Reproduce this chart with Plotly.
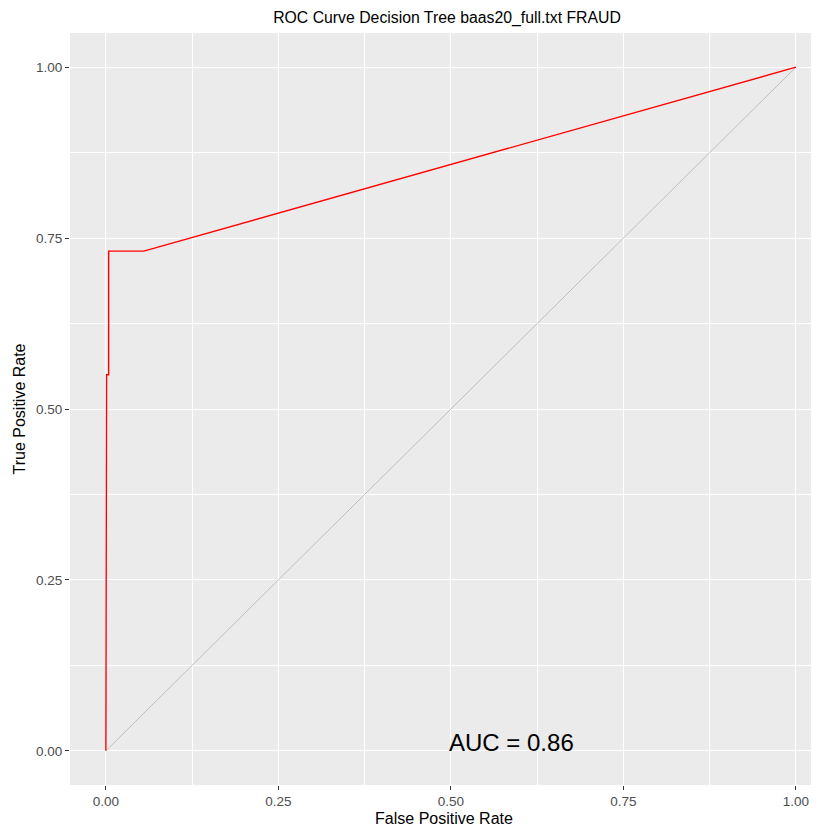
import plotly.graph_objects as go

fpr = [0.0, 0.0, 0.001, 0.001, 0.004, 0.004, 0.055, 1.0]
tpr = [0.0, 0.181, 0.181, 0.55, 0.55, 0.731, 0.731, 1.0]
diag_x = [0.0, 1.0]
diag_y = [0.0, 1.0]
tick_vals = [0.0, 0.25, 0.5, 0.75, 1.0]
tick_text = ["0.00", "0.25", "0.50", "0.75", "1.00"]
auc_label = "AUC = 0.86"
title = "ROC Curve Decision Tree baas20_full.txt FRAUD"

W, H = 811, 826  # page body has an 8px default margin

fig = go.Figure()
fig.add_trace(go.Scatter(x=diag_x, y=diag_y, mode="lines",
                         line=dict(color="#BEBEBE", width=1), hoverinfo="skip"))
fig.add_trace(go.Scatter(x=fpr, y=tpr, mode="lines",
                         line=dict(color="#FF0000", width=1.4)))
fig.add_annotation(x=0.495, y=0.0117, text=auc_label, showarrow=False,
                   xanchor="left", yanchor="middle",
                   font=dict(size=24, color="black", family="Liberation Sans, Arial"))

axis_common = dict(
    tickvals=tick_vals, ticktext=tick_text,
    showgrid=True, gridcolor="white", gridwidth=1.4,
    zeroline=False, showline=False, automargin=False,
    ticks="outside", ticklen=4, tickcolor="#333333", tickwidth=1,
    tickfont=dict(size=13.5, color="#4D4D4D", family="Liberation Sans, Arial"),
    minor=dict(tick0=0.125, dtick=0.25, showgrid=True, gridcolor="white", gridwidth=0.6, ticks=""),
)

fig.update_layout(
    width=W, height=H,
    margin=dict(l=62, r=1, t=25, b=49, autoexpand=False),
    paper_bgcolor="white", plot_bgcolor="#EBEBEB",
    showlegend=False,
    font=dict(family="Liberation Sans, Arial"),
    title=dict(text=title, x=439/W, xanchor="center", y=1-9/H, yanchor="middle",
               font=dict(size=15.8, color="black"), automargin=False),
    xaxis=dict(range=[-0.052, 1.032],
               title=dict(text="False Positive Rate", font=dict(size=16, color="black"), standoff=4),
               **axis_common),
    yaxis=dict(range=[-0.05, 1.05],
               title=dict(text="True Positive Rate", font=dict(size=16, color="black"), standoff=6),
               **axis_common),
)

fig.write_html("out.html")
